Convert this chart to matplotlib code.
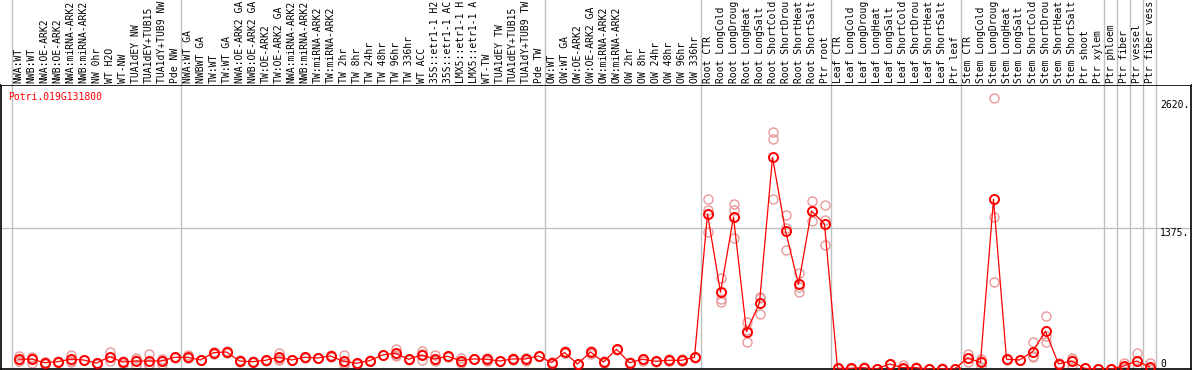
import numpy as np
import matplotlib
matplotlib.use('Agg')
import matplotlib.pyplot as plt

gene = 'Potri.019G131800'

labels = ['NWA:WT', 'NWB:WT', 'NWA:OE-ARK2', 'NWB:OE-ARK2', 'NWA:miRNA-ARK2', 'NWB:miRNA-ARK2',
          'NW 0hr', 'WT H2O', 'WT-NW', 'TUA1dEY NW', 'TUA1dEY+TUB15', 'TUA1dY+TUB9 NW', 'Pde NW',
          'NWA:WT GA', 'NWBWT GA', 'TW:WT', 'TW:WT GA', 'NWA:OE-ARK2 GA', 'NWB:OE-ARK2 GA',
          'TW:OE-ARK2', 'TW:OE-ARK2 GA', 'NWA:miRNA-ARK2', 'NWB:miRNA-ARK2', 'TW:miRNA-ARK2',
          'TW:miRNA-ARK2', 'TW 2hr', 'TW 8hr', 'TW 24hr', 'TW 48hr', 'TW 96hr', 'TW 336hr',
          'WT ACC', '35S::etr1-1 H2', '35S::etr1-1 AC', 'LMX5::etr1-1 H', 'LMX5::etr1-1 A',
          'WT-TW', 'TUA1dEY TW', 'TUA1dEY+TUB15', 'TUA1dY+TUB9 TW', 'Pde TW',
          'OW:WT', 'OW:WT GA', 'OW:OE-ARK2', 'OW:OE-ARK2 GA', 'OW:miRNA-ARK2', 'OW:miRNA-ARK2',
          'OW 2hr', 'OW 8hr', 'OW 24hr', 'OW 48hr', 'OW 96hr', 'OW 336hr',
          'Root CTR', 'Root LongCold', 'Root LongDroug', 'Root LongHeat', 'Root LongSalt',
          'Root ShortCold', 'Root ShortDrou', 'Root ShortHeat', 'Root ShortSalt', 'Ptr root',
          'Leaf CTR', 'Leaf LongCold', 'Leaf LongDroug', 'Leaf LongHeat', 'Leaf LongSalt',
          'Leaf ShortCold', 'Leaf ShortDrou', 'Leaf ShortHeat', 'Leaf ShortSalt', 'Ptr leaf',
          'Stem CTR', 'Stem LongCold', 'Stem LongDroug', 'Stem LongHeat', 'Stem LongSalt',
          'Stem ShortCold', 'Stem ShortDrou', 'Stem ShortHeat', 'Stem ShortSalt', 'Ptr shoot',
          'Ptr xylem', 'Ptr phloem', 'Ptr fiber', 'Ptr vessel', 'Ptr fiber vess']

# first column of each group (last entry = number of columns)
group_starts = [0, 13, 41, 53, 63, 73, 84, 85, 86, 87, 88]

means = [95, 97, 61, 71, 95, 88, 58, 120, 68, 78, 78, 78, 114,
         114, 88, 159, 166, 78, 71, 85, 114, 88, 114, 107, 127, 75, 56, 81, 137, 153,
         95, 137, 98, 124, 81, 98, 95, 78, 98, 98, 127,
         63, 161, 49, 166, 68, 192, 61, 95, 75, 85, 85, 114,
         1511, 748, 1482, 364, 644, 2063, 1346, 826, 1541, 1414,
         7, 7, 13, 0, 49, 13, 13, 0, 3, 0,
         107, 65, 1655, 95, 88, 169, 368, 49, 78, 7, 0,
         0, 29, 78, 22]

reps = [[130, 78, 78], [104, 61, 117], [49, 68, 68], [66, 71, 76], [134, 71, 78],
        [88, 85, 91], [52, 61, 59], [166, 81, 114], [49, 78, 68], [39, 88, 107],
        [143, 49, 42], [49, 88, 98], [110, 114, 118],
        [134, 104, 104], [85, 88, 91], [143, 166, 169], [160, 166, 172], [71, 78, 85],
        [68, 71, 74], [82, 85, 88], [159, 95, 88], [85, 88, 91], [110, 114, 118],
        [104, 107, 110], [134, 120, 127], [134, 39, 56], [56, 49, 59], [78, 81, 84],
        [137, 134, 139], [192, 137, 130], [92, 95, 98], [178, 88, 143], [134, 88, 75],
        [120, 124, 128], [110, 71, 61], [95, 98, 101], [110, 88, 78], [75, 78, 81],
        [98, 88, 107], [110, 78, 104], [124, 127, 130],
        [49, 68, 71], [173, 153, 156], [46, 49, 52], [178, 146, 173], [56, 78, 71],
        [188, 192, 196], [58, 61, 64], [95, 100, 81], [72, 75, 78], [100, 75, 78],
        [100, 75, 78], [110, 114, 118],
        [1655, 1550, 1333], [884, 680, 656], [1606, 1550, 1280], [455, 260, 376],
        [705, 689, 536], [2308, 2240, 1655], [1499, 1378, 1160], [933, 797, 748],
        [1638, 1541, 1443], [1596, 1453, 1206],
        [0, 7, 14], [0, 7, 14], [10, 13, 16], [0, 0, 0], [45, 49, 53], [36, 0, 3],
        [10, 13, 16], [0, 0, 0], [0, 3, 6], [0, 0, 0],
        [107, 68, 146], [78, 16, 100], [2640, 1485, 845], [92, 95, 98], [85, 88, 91],
        [260, 127, 120], [514, 322, 266], [61, 39, 49], [88, 39, 107], [5, 7, 9], [0, 0, 0],
        [0, 0, 0], [61, 17, 10], [159, 78, 7], [61, 3, 3]]

y_ticks = [2620, 1375, 0]
y_tick_text = ['2620.', '1375.', '0']

W, H = 1194, 370
fig = plt.figure(figsize=(W / 100, H / 100), dpi=100)
font = 'DejaVu Sans Mono'
grey = '#c0c0c0'

xlim = (-0.5 - 11 / 13, -0.5 + 1179 / 13)
ax = fig.add_axes([1 / W, 1 / H, 1190 / W, 284 / H])
hd = fig.add_axes([1 / W, 285 / H, 1190 / W, 85 / H])
for a in (ax, hd):
    a.set_xlim(*xlim)
    a.set_xticks([])
    a.set_yticks([])
hd.set_ylim(0, 85)
for s in hd.spines.values():
    s.set_visible(False)
for s in ax.spines.values():
    s.set_linewidth(1.2)
    s.set_color('black')

ax.set_ylim(0, 2769)
x = np.arange(len(labels))

for b in group_starts:
    ax.axvline(b - 0.5, color=grey, lw=1, zorder=0)
    hd.axvline(b - 0.5, color=grey, lw=1, zorder=0)
ax.axhline(1375, color=grey, lw=1, zorder=0)

for i, r in enumerate(reps):
    ax.plot([i] * len(r), r, 'o', ms=6.5, mfc='none', mec='#e89a9a', mew=1.0, zorder=2)
ax.plot(x, means, '-', color='red', lw=0.9, zorder=3)
ax.plot(x, means, 'o', ms=6.5, mfc='none', mec='red', mew=1.4, zorder=4)

for i, lab in enumerate(labels):
    hd.text(i, 2, lab, rotation=90, ha='center', va='bottom', family=font, fontsize=7)

for v, t in zip(y_ticks, y_tick_text):
    ax.text(87.8, v, t, ha='left', va='bottom' if v == 0 else 'top', family=font, fontsize=7)

ax.text(0.006, 0.957, gene, transform=ax.transAxes, color='red', family=font, fontsize=7,
        ha='left', va='center')

fig.savefig('out.png', dpi=100)
